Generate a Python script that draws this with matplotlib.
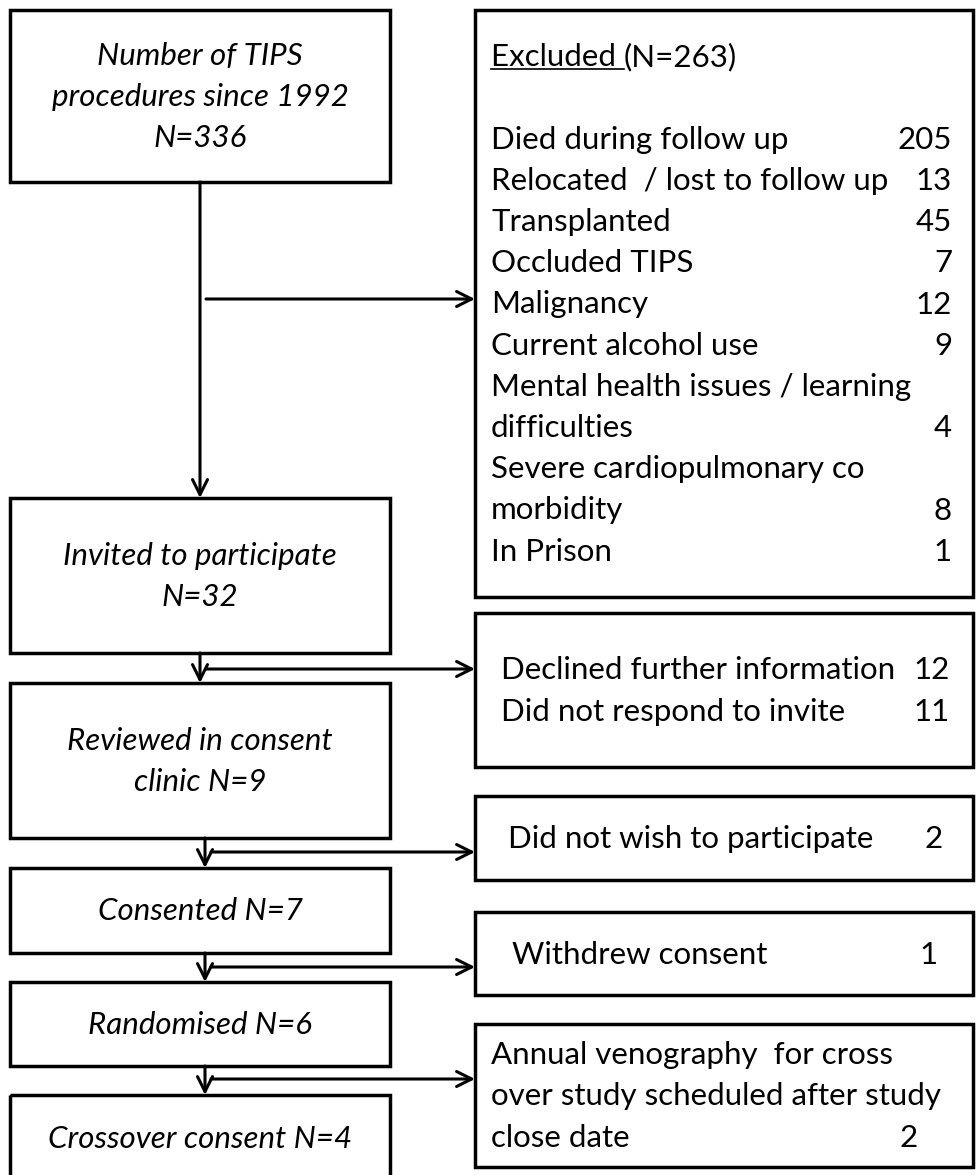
import matplotlib
matplotlib.use("Agg")
import matplotlib.pyplot as plt
from matplotlib.patches import Rectangle, FancyArrowPatch

# flow steps (left column)
steps = [
    ["Number of TIPS", "procedures since 1992", "N=336"],
    ["Invited to participate", "N=32"],
    ["Reviewed in consent", "clinic N=9"],
    ["Consented N=7"],
    ["Randomised N=6"],
    ["Crossover consent N=4"],
]

# exclusions (right column)
excl_header = "Excluded"
excl_total = "(N=263)"
excl_labels = ["Died during follow up", "Relocated  / lost to follow up", "Transplanted",
               "Occluded TIPS", "Malignancy", "Current alcohol use",
               "Mental health issues / learning\ndifficulties",
               "Severe cardiopulmonary co\nmorbidity", "In Prison"]
excl_counts = [205, 13, 45, 7, 12, 9, 4, 8, 1]

drop_labels = [
    ["Declined further information", "Did not respond to invite"],
    ["Did not wish to participate"],
    ["Withdrew consent"],
    ["Annual venography  for cross\nover study scheduled after study\nclose date"],
]
drop_counts = [[12, 11], [2], [1], [2]]

# layout in pixels
left_boxes = [(10, 182), (498, 653), (683, 838), (868, 953), (982, 1066), (1095, 1182)]
left_x0, left_x1, left_cx = 10, 390, 200
right_boxes = [(10, 597), (613, 767), (796, 880), (912, 995), (1024, 1167)]
right_x0, right_x1 = 475, 973
text_x = [491, 501, 508, 512, 491]
count_x = [952, 950, 943, 938, 918]
arrow_x = [200, 200, 205, 205, 205]
arrow_y = [299, 669, 852, 967, 1079]
LH = 41.2
FS = 22.5

plt.rcParams['font.family'] = ['Lato', 'DejaVu Sans']

fig = plt.figure(figsize=(9.78, 11.75), dpi=100)
ax = fig.add_axes([0, 0, 1, 1])
ax.set_xlim(0, 978)
ax.set_ylim(1175, 0)
ax.axis('off')


def box(x0, x1, y0, y1):
    ax.add_patch(Rectangle((x0, y0), x1 - x0, y1 - y0, fill=False,
                           edgecolor='black', linewidth=2.5, joinstyle='miter'))


def arrow(p0, p1):
    ax.add_patch(FancyArrowPatch(p0, p1, arrowstyle='->,head_length=0.54,head_width=0.27',
                                 mutation_scale=20, color='black', linewidth=2.2,
                                 shrinkA=0, shrinkB=0))


def baselines(y0, y1, n):
    c = (y0 + y1) / 2
    return [c + (i - (n - 1) / 2) * LH + 10 for i in range(n)]


# left column
for lines, (y0, y1) in zip(steps, left_boxes):
    box(left_x0, left_x1, y0, y1)
    for line, yb in zip(lines, baselines(y0, y1, len(lines))):
        ax.text(left_cx, yb, line, ha='center', va='baseline', fontsize=FS, style='italic')

# excluded box
y0, y1 = right_boxes[0]
box(right_x0, right_x1, y0, y1)
rows = []
for lab, cnt in zip(excl_labels, excl_counts):
    parts = lab.split("\n")
    for j, p in enumerate(parts):
        rows.append((p, cnt if j == len(parts) - 1 else None))
ys = baselines(y0, y1, len(rows) + 2)
hdr = ax.text(text_x[0], ys[0], excl_header + " ", ha='left', va='baseline', fontsize=FS)
for (p, cnt), yb in zip(rows, ys[2:]):
    ax.text(text_x[0], yb, p, ha='left', va='baseline', fontsize=FS)
    if cnt is not None:
        ax.text(count_x[0], yb, str(cnt), ha='right', va='baseline', fontsize=FS)

fig.canvas.draw()
bb = hdr.get_window_extent().transformed(ax.transData.inverted())
ax.plot([bb.x0, bb.x1], [ys[0] + 3, ys[0] + 3], color='black', linewidth=1.2)
ax.text(bb.x1, ys[0], excl_total, ha='left', va='baseline', fontsize=FS)

# other drop-out boxes
for k, (labels, counts) in enumerate(zip(drop_labels, drop_counts), start=1):
    y0, y1 = right_boxes[k]
    box(right_x0, right_x1, y0, y1)
    rows = []
    for lab, cnt in zip(labels, counts):
        parts = lab.split("\n")
        for j, p in enumerate(parts):
            rows.append((p, cnt if j == len(parts) - 1 else None))
    for (p, cnt), yb in zip(rows, baselines(y0, y1, len(rows))):
        ax.text(text_x[k], yb, p, ha='left', va='baseline', fontsize=FS)
        if cnt is not None:
            ax.text(count_x[k], yb, str(cnt), ha='right', va='baseline', fontsize=FS)

# arrows
for i in range(5):
    arrow((arrow_x[i], left_boxes[i][1]), (arrow_x[i], left_boxes[i + 1][0]))
    arrow((arrow_x[i] + 6, arrow_y[i]), (right_x0, arrow_y[i]))

fig.savefig("out.png", dpi=100)
